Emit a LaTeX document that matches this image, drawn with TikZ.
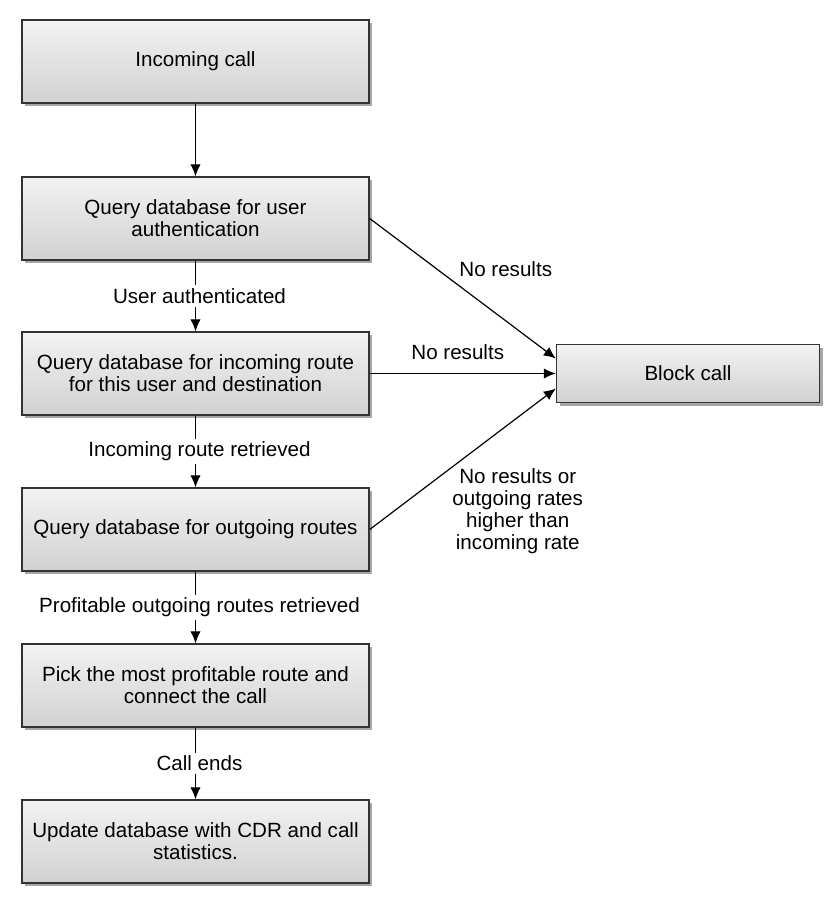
\documentclass[tikz,border=0pt]{standalone}
\usepackage{fontspec}
\setmainfont{Liberation Sans}
\usetikzlibrary{arrows.meta,shadows}
\tikzset{
  stepbox/.style={draw=black!80,line width=0.7pt,top color=black!5,bottom color=black!18,
    drop shadow={shadow xshift=1.6pt,shadow yshift=-1.6pt,fill=black!35,opacity=1},
    minimum width=173.5pt,minimum height=41.5pt,align=center,inner sep=2pt},
  endbox/.style={stepbox,minimum width=131.5pt,minimum height=29pt},
  lbl/.style={fill=white,inner sep=1.5pt,align=center,xshift=2pt},
  flow/.style={->,line width=0.6pt}
}
\begin{document}
\begin{tikzpicture}[x=0.5pt,y=-0.5pt,>={Latex[length=6pt,width=5.2pt]},font=\fontsize{10.3}{11}\selectfont]
	\useasboundingbox[fill=white] (0,0) rectangle (836,900);
	% left column
	\node[stepbox] (call) at (195.5,61.5) {Incoming call};
	\node[stepbox] (auth) at (195.5,218.5) {Query database for user\\authentication};
	\node[stepbox] (inroute) at (195.5,373.5) {Query database for incoming route\\for this user and destination};
	\node[stepbox] (outroute) at (195.5,529.5) {Query database for outgoing routes};
	\node[stepbox] (pick) at (195.5,685.5) {Pick the most profitable route and\\connect the call};
	\node[stepbox] (update) at (195.5,841.5) {Update database with CDR and call\\statistics.};
	\node[endbox] (block) at (688,373.5) {Block call};
	% main flow
	\draw[flow] (call) -- (auth);
	\draw[flow] (auth) -- node[lbl]{User authenticated} (inroute);
	\draw[flow] (inroute) -- node[lbl]{Incoming route retrieved} (outroute);
	\draw[flow] (outroute) -- node[lbl]{Profitable outgoing routes retrieved} (pick);
	\draw[flow] (pick) -- node[lbl]{Call ends} (update);
	% failures
	\draw[flow] (auth.east) -- node[xshift=21.5pt,yshift=9.5pt]{No results} ([yshift=7.5pt]block.west);
	\draw[flow] (inroute.east) -- node[above=3.5pt,xshift=-2.5pt]{No results} (block.west);
	\draw[flow] (outroute.east) -- node[align=center,xshift=27.5pt,yshift=-26pt]{No results or\\outgoing rates\\higher than\\incoming rate} ([yshift=-7.5pt]block.west);
\end{tikzpicture}
\end{document}
